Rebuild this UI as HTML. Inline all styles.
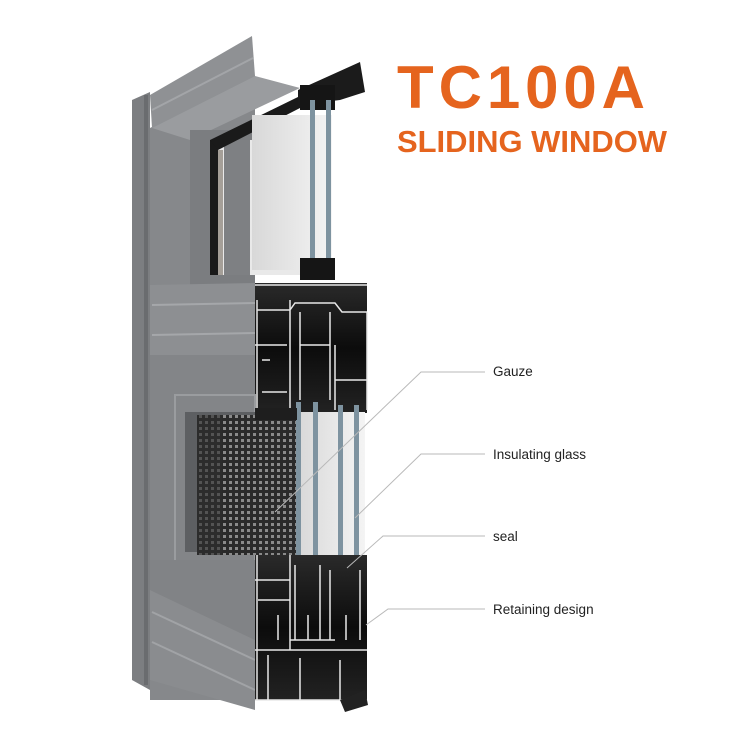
<!DOCTYPE html>
<html><head><style>html,body{margin:0;padding:0;background:#fff}svg{display:block}</style></head><body>
<svg width="750" height="750" viewBox="0 0 750 750" xmlns="http://www.w3.org/2000/svg">
<defs>
<linearGradient id="blk" x1="0" y1="0" x2="0" y2="1"><stop offset="0" stop-color="#2a2a2a"/><stop offset="0.5" stop-color="#0c0c0c"/><stop offset="1" stop-color="#222"/></linearGradient>
<linearGradient id="gl" x1="0" y1="0" x2="1" y2="0"><stop offset="0" stop-color="#d8d8d8"/><stop offset="1" stop-color="#f4f4f4"/></linearGradient>
<pattern id="perf" width="6" height="6" patternUnits="userSpaceOnUse"><rect width="6" height="6" fill="#2a2a2a"/><rect x="1" y="1" width="3" height="3" fill="#8a8a8a"/></pattern>
</defs>
<polygon points="132,100 150,92 150,690 132,680" fill="#7c7e81"/>
<rect x="144" y="95" width="4" height="590" fill="#6a6c6f"/>
<polygon points="150,128 255,75 255,700 150,700" fill="#86888b"/>
<polygon points="150,95 252,36 255,76 152,128" fill="#8f9194"/>
<line x1="152" y1="110" x2="253" y2="58" stroke="#a3a5a8" stroke-width="2"/>
<polygon points="152,128 255,76 300,88 190,140" fill="#9a9c9f"/>
<rect x="190" y="130" width="65" height="155" fill="#7b7d80"/>
<rect x="210" y="140" width="90" height="135" fill="#e9e9e9"/>
<rect x="210" y="140" width="8" height="135" fill="#1a1a1a"/>
<rect x="218" y="150" width="5" height="125" fill="#a59f98"/>
<rect x="224" y="140" width="26" height="135" fill="#7e8083"/>
<polygon points="210,140 300,96 300,108 218,150" fill="#1a1a1a"/>
<rect x="252" y="115" width="80" height="155" fill="url(#gl)"/>
<polygon points="298,90 360,62 365,92 340,100 298,105" fill="#1b1b1b"/>
<rect x="300" y="85" width="35" height="25" fill="#151515"/>
<rect x="310" y="100" width="5" height="170" fill="#7e93a0"/>
<rect x="326" y="100" width="5" height="170" fill="#7e93a0"/>
<rect x="300" y="258" width="35" height="22" fill="#151515"/>
<polygon points="150,285 255,283 255,355 150,355" fill="#8d8f92"/>
<line x1="152" y1="305" x2="255" y2="303" stroke="#a5a7aa" stroke-width="2"/>
<line x1="152" y1="335" x2="255" y2="333" stroke="#a5a7aa" stroke-width="2"/>
<rect x="255" y="283" width="112" height="130" fill="url(#blk)"/>
<g stroke="#e8e8e8" stroke-width="1.5" fill="none">
<path d="M255,285 H367 M257,300 V410 M257,310 H290 M290,300 V410 M255,345 H287 M290,310 L295,303 H335 L342,312 H367 M300,312 V400 M300,345 H330 M330,312 V400 M335,345 V410 M335,380 H367 M367,312 V410 M262,360 h8 M262,392 h25"/>
</g>
<rect x="150" y="355" width="105" height="235" fill="#838588"/>
<rect x="175" y="395" width="80" height="175" fill="none" stroke="#9a9c9f" stroke-width="2"/>
<rect x="185" y="412" width="70" height="140" fill="#5d5f62"/>
<rect x="197" y="415" width="103" height="140" fill="url(#perf)"/>
<rect x="197" y="415" width="25" height="140" fill="#2f2f2f" opacity="0.6"/>
<rect x="297" y="412" width="68" height="148" fill="url(#gl)"/>
<rect x="296" y="402" width="5" height="165" fill="#7e93a0"/>
<rect x="313" y="402" width="5" height="165" fill="#7e93a0"/>
<rect x="338" y="405" width="5" height="162" fill="#7e93a0"/>
<rect x="354" y="405" width="5" height="162" fill="#7e93a0"/>
<rect x="255" y="408" width="42" height="12" fill="#1e1e1e"/>
<polygon points="150,590 255,640 255,710 150,680" fill="#8a8c8f"/>
<line x1="152" y1="612" x2="255" y2="660" stroke="#a1a3a6" stroke-width="2"/>
<line x1="152" y1="642" x2="255" y2="690" stroke="#a1a3a6" stroke-width="2"/>
<polygon points="150,560 255,560 255,640 150,590" fill="#818386"/>
<rect x="255" y="555" width="112" height="145" fill="url(#blk)"/>
<g stroke="#e8e8e8" stroke-width="1.5" fill="none">
<path d="M257,555 V700 M255,580 H290 M290,555 V650 M295,565 V640 M320,565 V640 M330,570 V640 M360,570 V640 M255,650 H367 M268,655 V700 M290,640 H335 M300,700 V658 M340,660 V700 M255,700 H367 M278,640 V615 M308,640 V615 M346,640 V615 M258,600 H290"/>
</g>
<polygon points="340,700 365,690 368,705 345,712" fill="#222"/>
<g stroke="#b9b9b9" stroke-width="1" fill="none">
<polyline points="485,372 421,372 275,512"/>
<polyline points="485,454 421,454 355,518"/>
<polyline points="485,536 383,536 347,568"/>
<polyline points="485,609 388,609 366,625"/>
</g>
<g font-family="Liberation Sans, sans-serif" font-size="13.5" fill="#222">
<text x="493" y="376">Gauze</text>
<text x="493" y="459">Insulating glass</text>
<text x="493" y="541">seal</text>
<text x="493" y="614">Retaining design</text>
</g>
<text x="397" y="108" font-family="Liberation Sans, sans-serif" font-weight="bold" font-size="60" fill="#e5641e" textLength="248" lengthAdjust="spacing">TC100A</text>
<text x="397" y="152" font-family="Liberation Sans, sans-serif" font-weight="bold" font-size="31" fill="#e5641e" textLength="270" lengthAdjust="spacingAndGlyphs">SLIDING WINDOW</text>
</svg>
</body></html>
